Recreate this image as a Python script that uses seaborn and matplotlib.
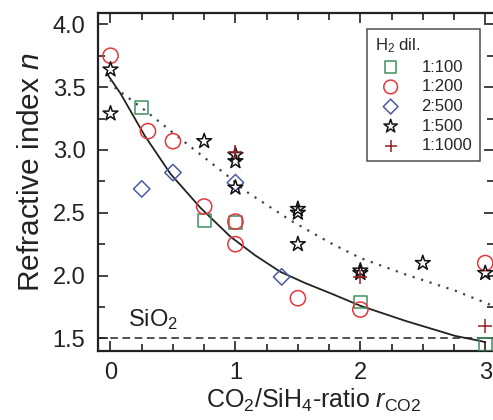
import numpy as np
import pandas as pd
import seaborn as sns
import matplotlib.pyplot as plt
from matplotlib.ticker import MultipleLocator

r_100 = [0.25, 0.75, 1.0, 2.0, 3.0]
n_100 = [3.34, 2.44, 2.42, 1.79, 1.45]

r_200 = [0.0, 0.30, 0.50, 0.75, 1.0, 1.0, 1.50, 2.0, 3.0]
n_200 = [3.75, 3.15, 3.07, 2.55, 2.43, 2.25, 1.82, 1.73, 2.10]

r_2500 = [0.25, 0.50, 1.0, 1.37]
n_2500 = [2.69, 2.82, 2.74, 1.99]

r_500 = [0.0, 0.0, 0.75, 1.0, 1.0, 1.0, 1.5, 1.5, 1.5, 2.0, 2.0, 2.5, 3.0]
n_500 = [3.64, 3.29, 3.07, 2.96, 2.91, 2.70, 2.53, 2.50, 2.25, 2.04, 2.02, 2.10, 2.02]

r_1000 = [1.0, 2.0, 3.0]
n_1000 = [2.98, 1.99, 1.60]

# curves
fit_r = [-0.03, 0.08, 0.27, 0.48, 0.72, 0.96, 1.16, 1.36, 1.56, 1.76, 2.0, 2.18, 2.36, 2.56, 2.76, 2.96, 3.0]
fit_n = [3.61, 3.45, 3.12, 2.81, 2.54, 2.31, 2.16, 2.03, 1.94, 1.86, 1.76, 1.70, 1.64, 1.58, 1.52, 1.48, 1.47]

dot_r = [0.0, 0.03, 0.27, 0.61, 0.93, 1.07, 1.44, 1.76, 2.0, 2.36, 2.76, 3.06]
dot_n = [3.56, 3.50, 3.32, 3.05, 2.80, 2.68, 2.44, 2.26, 2.14, 2.01, 1.88, 1.76]

sio2 = 1.5

series = [
    ('1:100', r_100, n_100, 's', '#3f8f5f', 85),
    ('1:200', r_200, n_200, 'o', '#e4373c', 120),
    ('2:500', r_2500, n_2500, 'D', '#4d5aa5', 70),
    ('1:500', r_500, n_500, '*', '#111111', 125),
    ('1:1000', r_1000, n_1000, '+', '#9a1f22', 90),
]

sns.set_theme(style='ticks')
plt.rcParams['font.family'] = ['Liberation Sans', 'DejaVu Sans']
plt.rcParams['mathtext.fontset'] = 'custom'
plt.rcParams['mathtext.rm'] = 'Liberation Sans'
plt.rcParams['mathtext.it'] = 'Liberation Sans:italic'

fig = plt.figure(figsize=(4.93, 4.20), dpi=100)
ax = fig.add_axes([98 / 493, 69 / 420, 396 / 493, 338 / 420])

ax.axhline(sio2, color='#222222', lw=1.1, ls=(0, (5, 3)), zorder=1)
sns.lineplot(x=fit_r, y=fit_n, ax=ax, color='#222222', lw=1.3, sort=False, zorder=2)
sns.lineplot(x=dot_r, y=dot_n, ax=ax, color='#3d4650', lw=1.6, ls=(0, (1, 3)),
             sort=False, zorder=2)

for lab, xs, ys, m, c, s in series:
    if m == '+':
        sns.scatterplot(x=xs, y=ys, ax=ax, marker=m, color=c, s=s, linewidth=1.1,
                        label=lab, zorder=3)
    else:
        sns.scatterplot(x=xs, y=ys, ax=ax, marker=m, facecolor='none', edgecolor=c,
                        s=s, linewidth=1.1, label=lab, zorder=3)

ax.text(0.14, 1.60, 'SiO$_2$', fontsize=17, ha='left', va='baseline', color='#222222')

ax.set_xlim(-0.1, 3.07)
ax.set_ylim(1.4, 4.09)
ax.xaxis.set_major_locator(MultipleLocator(1))
ax.xaxis.set_minor_locator(MultipleLocator(0.25))
ax.yaxis.set_major_locator(MultipleLocator(0.5))
ax.yaxis.set_minor_locator(MultipleLocator(0.25))
ax.tick_params(which='both', direction='in', top=True, right=True, width=1.2,
               colors='#222222', labelcolor='#222222')
ax.tick_params(which='major', length=7.5, labelsize=17)
ax.tick_params(which='minor', length=5)
ax.tick_params(axis='x', pad=8)
ax.tick_params(axis='y', pad=9)
ax.yaxis.set_major_formatter(plt.FormatStrFormatter('%.1f'))
for sp in ax.spines.values():
    sp.set_linewidth(1.6)
    sp.set_color('#222222')

ax.set_xlabel(r'CO$_2$/SiH$_4$-ratio $r_{\mathrm{CO2}}$', fontsize=18, color='#222222')
ax.set_ylabel(r'Refractive index $n$', fontsize=21.5, color='#222222')
ax.xaxis.set_label_coords(0.545, -0.105)
ax.yaxis.set_label_coords(-0.135, 0.53)

leg = ax.legend(title='H$_2$ dil.', loc='upper right', bbox_to_anchor=(0.985, 0.978),
                fontsize=12, title_fontsize=12, frameon=True, fancybox=False,
                edgecolor='#222222', borderpad=0.45, labelspacing=0.28,
                handletextpad=0.9, handlelength=1.9, markerscale=0.9)
leg.get_frame().set_linewidth(1.1)
leg._legend_box.align = 'left'

fig.savefig('out.png', dpi=100)
